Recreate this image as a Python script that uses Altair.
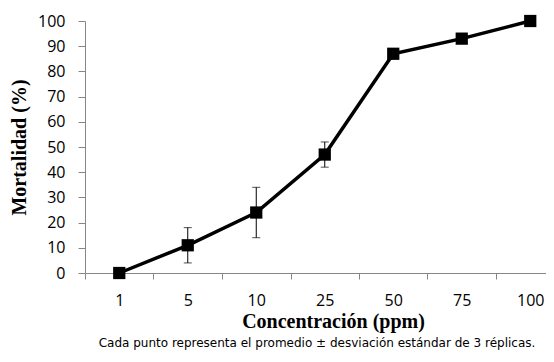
import altair as alt
import pandas as pd

conc_labels = ["1", "5", "10", "25", "50", "75", "100"]
mortality = [0, 11, 24, 47, 87, 93, 100]
std_dev = [0, 7, 10, 5, 0, 0, 0]
y_ticks = list(range(0, 101, 10))
footnote = "Cada punto representa el promedio ±  desviación estándar de 3 réplicas."

df = pd.DataFrame({
    "i": list(range(len(conc_labels))),
    "label": conc_labels,
    "m": mortality,
    "sd": std_dev,
})
df["lo"] = df["m"] - df["sd"]
df["hi"] = df["m"] + df["sd"]
err = df[df["sd"] > 0]

W, H = 461, 252
n = len(conc_labels)
x_dom = [-0.5, -0.5 + W / 68.5]
step = W / (x_dom[1] - x_dom[0])

label_expr = "[" + ",".join(f"'{l}'" for l in conc_labels) + "][datum.value]"

x_axis = alt.Axis(
    values=list(range(n)),
    labelExpr=label_expr,
    tickOffset=-step / 2,
    labelOffset=step / 2,
    tickSize=6,
    labelPadding=26,
    labelBaseline="alphabetic",
    labelOverlap=False,
    title="Concentración (ppm)",
    titleX=248,
    titleY=54,
    titleBaseline="alphabetic",
    titleAlign="center",
)
y_axis = alt.Axis(
    values=y_ticks,
    tickCount=11,
    tickSize=7,
    labelPadding=13,
    labelOverlap=False,
    title="Mortalidad (%)",
    titleX=-66,
    titleY=H / 2,
    titleAngle=-90,
    titleBaseline="middle",
    titleAlign="center",
)
x_scale = alt.Scale(domain=x_dom, nice=False, zero=False)
y_scale = alt.Scale(domain=[0, 100], nice=False)


def X(field):
    return alt.X(field, scale=x_scale, axis=x_axis)


def Y(field):
    return alt.Y(field, scale=y_scale, axis=y_axis)


base = alt.Chart(df)
line = base.mark_line(color="black", strokeWidth=3.5).encode(x=X("i:Q"), y=Y("m:Q"))
pts = base.mark_point(shape="square", filled=True, color="black", size=150, opacity=1).encode(x=X("i:Q"), y=Y("m:Q"))
rule = alt.Chart(err).mark_rule(color="black", strokeWidth=1).encode(x=X("i:Q"), y=Y("lo:Q"), y2="hi:Q")
cap_lo = alt.Chart(err).mark_tick(color="black", thickness=1, size=8, orient="horizontal").encode(x=X("i:Q"), y=Y("lo:Q"))
cap_hi = alt.Chart(err).mark_tick(color="black", thickness=1, size=8, orient="horizontal").encode(x=X("i:Q"), y=Y("hi:Q"))
note = alt.Chart(pd.DataFrame({"t": [footnote]})).mark_text(
    font="DejaVu Sans", fontSize=12, color="black", align="center", baseline="alphabetic"
).encode(text="t:N", x=alt.value(232), y=alt.value(326))

chart = alt.layer(line, rule, cap_lo, cap_hi, pts, note).properties(
    width=W,
    height=H,
    autosize=alt.AutoSizeParams(type="none"),
    padding={"left": 77, "top": 13, "right": 0, "bottom": 77},
    background="white",
).configure_view(stroke=None).configure_axis(
    grid=False,
    domainColor="#868686",
    tickColor="#868686",
    domainWidth=1,
    tickWidth=1,
    labelColor="black",
    labelFont="Open Sans",
    labelFontSize=16,
    titleColor="black",
    titleFont="Liberation Serif",
    titleFontWeight="bold",
    titleFontSize=20,
)

chart.save("out.html", embed_options={"renderer": "svg", "actions": False})
